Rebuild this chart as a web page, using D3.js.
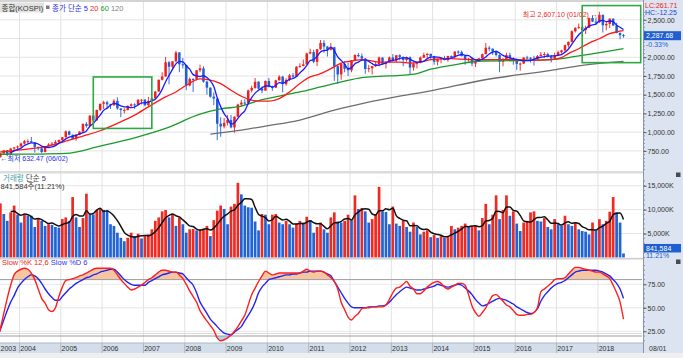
<!DOCTYPE html>
<html><head><meta charset="utf-8">
<script src="https://cdn.jsdelivr.net/npm/d3@7/dist/d3.min.js"></script>
<style>
html,body{margin:0;padding:0;background:#fff;overflow:hidden}
svg{display:block;font-family:"Liberation Sans","Noto Sans CJK KR",sans-serif}
</style></head><body>
<svg id="chart" width="683" height="358"></svg>
<script>
// ---------- DATA (monthly KOSPI, 2003-06 .. 2018-08) ----------
const startMonth = "2003-06";
const yearLabels = ["2003","2004","2005","2006","2007","2008","2009","2010","2011","2012","2013","2014","2015","2016","2017","2018"];

const openP = [
 633,670,718,760,697,781,796,
 810,848,880,880,863,803,785,735,812,835,846,870,
 896,932,1011,965,911,970,1008,1111,1083,1221,1158,1297,
 1379,1399,1371,1359,1419,1317,1295,1297,1352,1371,1364,1432,
 1434,1360,1417,1452,1542,1700,1743,1933,1873,1946,2064,1906,
 1897,1624,1711,1704,1825,1852,1674,1594,1474,1448,1113,1076,
 1124,1162,1063,1206,1369,1395,1390,1557,1591,1673,1581,1555,
 1683,1602,1594,1692,1741,1641,1698,1759,1742,1873,1883,1905,
 2051,2069,1939,2107,2192,2142,2100,2133,1880,1770,1909,1847,
 1826,1956,2030,2014,1982,1843,1854,1881,1906,1996,1912,1933,
 1997,1962,2027,2005,1964,2001,1863,1914,1926,1997,2030,2045,
 2011,1941,1980,1986,1962,2017,2002,2076,2068,2020,1964,1981,
 1916,1949,1986,2041,2127,2114,2074,2030,1941,1963,2029,1991,
 1961,1912,1916,1996,1994,1983,1970,2016,2034,2043,2008,1983,
 2026,2067,2092,2160,2205,2347,2392,2402,2363,2394,2523,2476,
 2467,2566,2427,2445,2515,2423,2326,2295];
const highP = [
 680,725,760,762,790,803,822,
 860,895,905,936,870,808,790,815,853,870,894,900,
 935,1022,1020,970,972,1010,1115,1135,1225,1230,1300,1380,
 1420,1420,1380,1440,1464,1320,1320,1355,1385,1385,1440,1440,
 1440,1470,1460,1550,1700,1800,2005,1950,1950,2085,2070,1990,
 1900,1730,1720,1830,1901,1880,1690,1600,1530,1460,1200,1190,
 1230,1230,1210,1380,1430,1440,1570,1620,1723,1680,1610,1690,
 1723,1620,1700,1760,1750,1720,1780,1790,1880,1920,1970,2060,
 2115,2100,2110,2231,2228,2150,2190,2140,1900,1920,1950,1930,
 1960,2040,2057,2050,1990,1900,1880,1950,2010,2000,1940,2010,
 2042,2030,2040,2010,2010,2010,1930,1940,2010,2060,2060,2050,
 2020,1980,2000,2020,2020,2025,2080,2093,2090,2030,1990,2000,
 1960,1990,2050,2190,2150,2120,2090,2040,1990,2060,2060,2000,
 1970,1930,2000,2020,2000,2020,2030,2070,2070,2060,2030,2060,
 2090,2100,2170,2210,2360,2400,2450,2410,2420,2530,2560,2530,
 2607.10,2570,2480,2520,2520,2460,2330,2310];
const lowP = [
 632.47,660,697,680,697,760,770,
 800,835,850,860,728,760,719,730,810,830,845,860,
 870,930,956,900,885,960,1005,1060,1080,1120,1150,1280,
 1310,1330,1310,1350,1300,1200,1250,1290,1330,1310,1360,1370,
 1345,1350,1380,1450,1540,1690,1740,1638,1850,1930,1800,1850,
 1560,1610,1537,1690,1800,1660,1500,1460,1360,892,938,1050,
 1090,1050,992,1200,1340,1360,1370,1530,1580,1570,1520,1550,
 1600,1552,1590,1690,1532,1620,1680,1720,1740,1860,1880,1900,
 2040,1920,1882,2100,2060,2010,2090,1684,1644,1700,1800,1750,
 1800,1950,2000,1950,1780,1800,1770,1870,1880,1900,1850,1930,
 1940,1930,1960,1880,1940,1770,1820,1850,1920,1990,1990,1960,
 1900,1890,1920,1960,1940,1980,1990,2040,2010,1900,1940,1880,
 1870,1940,1980,2040,2080,2030,2010,1800,1880,1960,1970,1900,
 1830,1820,1910,1970,1930,1890,1960,2010,1990,2000,1930,1970,
 2020,2050,2070,2130,2200,2330,2380,2300,2310,2390,2470,2430,
 2460,2330,2360,2390,2420,2320,2240,2261.71];
const closeP = [
 669,718,759,697,781,796,810,
 848,880,880,863,803,785,735,812,835,846,870,896,
 932,1011,965,911,970,1008,1111,1083,1221,1158,1297,1379,
 1399,1371,1359,1419,1317,1295,1297,1352,1371,1364,1432,1434,
 1360,1417,1452,1542,1700,1743,1933,1873,1946,2064,1906,1897,
 1624,1711,1704,1825,1852,1674,1594,1474,1448,1113,1076,1124,
 1162,1063,1206,1369,1395,1390,1557,1591,1673,1581,1555,1683,
 1602,1594,1692,1741,1641,1698,1759,1742,1873,1883,1905,2051,
 2069,1939,2107,2192,2142,2100,2133,1880,1770,1909,1847,1826,
 1956,2030,2014,1982,1843,1854,1881,1906,1996,1912,1933,1997,
 1962,2027,2005,1964,2001,1863,1914,1926,1997,2030,2045,2011,
 1941,1980,1986,1962,2017,2002,2076,2068,2020,1964,1981,1916,
 1949,1986,2041,2127,2114,2074,2030,1941,1963,2029,1991,1961,
 1912,1916,1996,1994,1983,1970,2016,2034,2043,2008,1983,2026,
 2067,2092,2160,2205,2347,2392,2402,2363,2394,2523,2476,2467,
 2566,2427,2445,2515,2423,2326,2295,2287.68];

// volume (units as on the axis, "K")
const volume = [
 10500,
 11300,9090,7660,9430,10850,8940,7300,8940,8800,8720,
 6380,8020,7660,6600,6950,6810,6380,6240,8020,8370,
 7660,12620,8370,6380,8230,13330,9080,9000,9930,10140,
 9930,9790,6950,6600,5180,4110,3400,4110,5180,4470,
 4960,3970,4470,4820,5890,7660,8370,9640,9930,8370,
 9080,6600,8370,6950,5180,5890,5950,5670,5890,6000,
 6600,4470,7800,9790,10850,10140,6950,10640,11210,15600,
 13190,10850,10490,10400,7520,5670,9080,8940,6950,8940,
 9080,7300,6950,7660,6950,6240,7090,
 7660,7300,8510,7800,5180,6380,7300,5890,5180,8370,
 9430,7520,7300,7660,8940,7800,12980,10140,10350,9640,
 7300,8020,9080,14750,9640,9500,6950,10640,7090,6600,
 7660,6380,5390,7300,6380,4820,5390,5670,4250,4680,
 4110,4470,4110,4470,6600,5890,6240,6600,7090,6380,
 6500,6600,5670,8230,11210,6950,8940,12980,8020,9930,
 12980,8720,9640,7090,5530,7300,7660,9430,9640,7660,
 7520,8230,6380,5890,8020,6950,6600,8720,6950,6600,
 7300,5890,5530,5390,4820,7300,5670,
 8000,6950,7660,9570,12620,9430,7300,841.584];

// Slow %K(12,6) and Slow %D(6)
const slowK = [
 14,28,44,60,74,85,89,91,92,91,
 87,80,70,60,55,48,46,50,62,72,
 79,80,81,82,84,85,87,89,91,92,
 92,92,92,92,90,85,80,76,72,69,
 70,72,74,77,80,82,85,88,90,90,
 89,88,88,85,81,75,68,62,56,47,
 41,36,31,26,18,15,16,18,21,25,
 30,36,42,53,64,71,78,84,89,87,
 85,86,87,87,87,87,87,87,87,89,
 91,89,88,89,89,88,85,82,78,70,
 56,48,40,37,41,44,49,50,50,51,
 51,51,51,53,59,66,71,72,75,78,
 73,70,65,65,68,72,75,77,78,76,
 72,70,72,74,76,76,74,64,52,45,
 41,45,50,57,63,64,61,57,53,51,
 47,43,42,42,43,43,45,50,67,70,
 73,76,80,81,81,82,86,90,93,93,
 92,91,90,89,88,88,86,84,81,74,
 66,56,38];
const slowD = [
 18,27,37,47,56,63,71,76,80,83,
 85,84,81,76,70,65,61,58,58,62,
 66,70,73,76,78,80,82,83,85,86,
 88,89,90,91,91,88,84,80,77,75,
 74,74,74,74,77,79,81,83,85,86,
 87,88,88,87,86,82,78,74,66,56,
 50,44,38,34,30,26,23,22,21,24,
 27,30,36,42,48,56,66,72,76,80,
 81,82,83,84,85,85,86,86,87,88,
 88,89,89,89,89,88,86,84,78,72,
 66,60,55,51,50,50,50,50,51,51,
 51,52,52,53,56,60,64,67,70,72,
 71,70,69,69,70,71,72,73,75,74,
 73,72,73,74,75,74,71,68,64,59,
 55,52,53,55,57,59,60,59,58,56,
 54,51,49,47,45,44,45,49,57,63,
 67,71,74,76,77,79,82,85,88,89,
 90,90,90,90,90,89,88,86,84,80,
 76,70,60];

// long moving averages
const ma20Dates = ["2003-07","2004-04","2004-09","2005-02","2005-07","2005-12","2006-05","2006-10","2007-02","2007-07","2007-10","2008-01","2008-05","2008-07","2008-11","2009-02","2009-05","2009-08","2009-10","2010-01","2010-04","2010-07","2010-10","2011-01","2011-04","2011-07","2011-10","2012-01","2012-04","2012-06","2012-09","2012-12","2013-03","2013-06","2013-09","2013-12","2014-06","2014-11","2015-05","2015-11","2016-05","2016-11","2017-02","2017-04","2017-07","2017-10","2018-01","2018-04","2018-07","2018-08"];
const ma20Vals = [735,780,815,880,948,1019,1117,1227,1338,1471,1537,1626,1712,1704,1649,1560,1480,1427,1414,1414,1449,1537,1649,1737,1782,1848,1923,1950,1968,1959,1936,1936,1936,1923,1936,1968,1981,1968,1968,1968,1959,1968,1995,2048,2114,2189,2247,2314,2348,2358];
const ma60Dates = ["2003-07","2004-06","2005-02","2005-12","2006-10","2007-07","2008-05","2008-11","2009-05","2009-10","2010-04","2010-10","2011-04","2011-10","2012-04","2012-09","2013-03","2013-08","2013-12","2014-06","2015-03","2016-01","2016-11","2017-04","2017-08","2018-02","2018-08"];
const ma60Vals = [705,708,716,815,925,1050,1240,1310,1347,1420,1480,1537,1604,1670,1729,1746,1759,1782,1840,1892,1950,1955,1968,1995,2025,2069,2114];
const ma120Dates = ["2008-08","2009-05","2009-12","2010-10","2011-08","2012-05","2013-03","2013-12","2015-03","2016-11","2017-08","2018-08"];
const ma120Vals = [975,1028,1081,1161,1294,1391,1480,1551,1693,1826,1892,1945];

// highlight boxes (annotations)
const boxFrom = ["2005-10","2017-08"];
const boxTo   = ["2007-03","2019-01"];
const boxLo   = [1050,1928];
const boxHi   = [1737,2690];

const priceTicks = [750,1000,1250,1500,1750,2000,2250,2500];
const priceLabelTicks = [750,1000,1250,1500,1750,2000,2500];
const volTicks = [5000,10000,15000];
const stochTicks = [25,50,75];
const hiDateLabel = "01/02", loDateLabel = "06/02";
const lastChangePct = "-0.33%", volPct = "11.21%";
const lcText = "LC:261.71", hcText = "HC:-12.25";
const cursorDate = "08/01";

// ---------- LAYOUT ----------
const svg = d3.select("#chart");
const PLOT_R = 642;
const n = closeP.length;
const [sy, sm] = startMonth.split("-").map(Number);
const idx = s => { const [y,m] = s.split("-").map(Number); return (y-sy)*12 + (m-sm); };
const x  = d3.scaleLinear().domain([0, n-1]).range([-3.1, 623.5]);
const yP = d3.scaleLinear().domain([750, 2500]).range([150.9, 19.8]);
const yV = d3.scaleLinear().domain([0, 15000]).range([257.5, 185.7]);
const yS = d3.scaleLinear().domain([25, 75]).range([331.3, 284.3]);
const I = d3.range(n);

const RED = "#ee1f1f", BLUE = "#1f5fd8";

svg.append("rect").attr("width",683).attr("height",358).attr("fill","#fff");
svg.append("rect").attr("x",0).attr("y",0).attr("width",683).attr("height",2).attr("fill","#d4d4d4");

const defs = svg.append("defs");
function clip(id,y0,y1){ defs.append("clipPath").attr("id",id).append("rect")
  .attr("x",0).attr("y",y0).attr("width",PLOT_R+1).attr("height",y1-y0); }
clip("cp",10,171); clip("cv",174,258); clip("cs",259,343);

// vertical year grid
const yearGrid = yearLabels.slice(1).map(y => x(idx(y+"-01") - 0.44));
svg.append("g").selectAll("line").data(yearGrid).join("line")
  .attr("x1",d=>d).attr("x2",d=>d).attr("y1",2).attr("y2",343)
  .attr("stroke","#e2e2e2").attr("stroke-width",1);

// ---- price panel ----
svg.append("g").selectAll("line").data(priceTicks).join("line")
  .attr("x1",0).attr("x2",PLOT_R).attr("y1",d=>yP(d)).attr("y2",d=>yP(d))
  .attr("stroke","#e4e4e4");

const gp = svg.append("g").attr("clip-path","url(#cp)");
const up = i => closeP[i] >= openP[i];
gp.append("g").selectAll("line").data(I).join("line")
  .attr("x1",i=>x(i)).attr("x2",i=>x(i))
  .attr("y1",i=>yP(highP[i])).attr("y2",i=>yP(lowP[i]))
  .attr("stroke",i=>up(i)?RED:BLUE).attr("stroke-width",0.9);
gp.append("g").selectAll("rect").data(I).join("rect")
  .attr("x",i=>x(i)-1.25).attr("width",2.5)
  .attr("y",i=>yP(Math.max(openP[i],closeP[i])))
  .attr("height",i=>Math.max(1,Math.abs(yP(openP[i])-yP(closeP[i]))))
  .attr("fill",i=>up(i)?RED:BLUE);

const sparse = (dates, vals) => dates.map((d,k)=>[idx(d), vals[k]]);
const lineP = d3.line().x(d=>x(d[0])).y(d=>yP(d[1])).curve(d3.curveMonotoneX);
gp.append("path").attr("d",lineP(sparse(ma120Dates,ma120Vals))).attr("fill","none").attr("stroke","#6e6e6e").attr("stroke-width",1.3);
gp.append("path").attr("d",lineP(sparse(ma60Dates,ma60Vals))).attr("fill","none").attr("stroke","#1a9a2a").attr("stroke-width",1.3);
gp.append("path").attr("d",lineP(sparse(ma20Dates,ma20Vals))).attr("fill","none").attr("stroke","#ff1a1a").attr("stroke-width",1.3);
const ma5 = I.map(i => i<4 ? null : d3.mean(closeP.slice(i-4,i+1)));
gp.append("path").attr("d", d3.line().defined(i=>ma5[i]!=null).x(i=>x(i)).y(i=>yP(ma5[i])).curve(d3.curveMonotoneX)(I))
  .attr("fill","none").attr("stroke","#1a1aff").attr("stroke-width",1.3);

// highlight boxes
svg.append("g").selectAll("rect").data(boxFrom.map((d,k)=>k)).join("rect")
  .attr("x",k=>x(idx(boxFrom[k]))).attr("width",k=>x(idx(boxTo[k]))-x(idx(boxFrom[k])))
  .attr("y",k=>yP(boxHi[k])).attr("height",k=>yP(boxLo[k])-yP(boxHi[k]))
  .attr("fill","none").attr("stroke","#2ea844").attr("stroke-width",1.6);

// max / min annotations
const hiI = d3.maxIndex(highP), loI = d3.minIndex(lowP);
svg.append("text").attr("x",x(hiI)-1.5).attr("y",yP(highP[hiI])+5.5).attr("text-anchor","end")
  .attr("font-size",7).attr("fill","#ee2222")
  .text("최고 "+d3.format(",.2f")(highP[hiI])+" ("+hiDateLabel+") →");
svg.append("text").attr("x",Math.max(x(loI)+3,0.5)).attr("y",yP(lowP[loI])+1.5)
  .attr("font-size",7).attr("fill","#2a2aee")
  .text("←최저 "+d3.format(",.2f")(lowP[loI])+" ("+loDateLabel+")");

// title
svg.append("rect").attr("x",0).attr("y",2.5).attr("width",44).attr("height",10).attr("fill","#e2e2e2");
svg.append("text").attr("x",1.5).attr("y",10.5).attr("font-size",7.5).attr("fill","#333").text("종합(KOSPI)");
svg.append("rect").attr("x",46).attr("y",5.5).attr("width",3.5).attr("height",3.5).attr("fill","#7a7a7a");
const tt = svg.append("text").attr("x",52).attr("y",10.5).attr("font-size",7.5);
tt.append("tspan").attr("fill","#2a2aee").text("종가 단순 5");
tt.append("tspan").attr("fill","#ee2222").text(" 20");
tt.append("tspan").attr("fill","#1f9a2f").text(" 60");
tt.append("tspan").attr("fill","#808080").text(" 120");

// separator price/volume
svg.append("rect").attr("x",0).attr("y",171).attr("width",643).attr("height",2.5).attr("fill","#dcdcdc");

// ---- volume panel ----
svg.append("g").selectAll("line").data(volTicks).join("line")
  .attr("x1",0).attr("x2",PLOT_R).attr("y1",d=>yV(d)).attr("y2",d=>yV(d)).attr("stroke","#e4e4e4");
const gv = svg.append("g").attr("clip-path","url(#cv)");
const vUp = i => i===0 || volume[i] >= volume[i-1];
gv.append("g").selectAll("rect").data(I).join("rect")
  .attr("x",i=>x(i)-1.35).attr("width",2.7)
  .attr("y",i=>yV(volume[i])).attr("height",i=>yV(0)-yV(volume[i]))
  .attr("fill",i=>vUp(i)?"#ee2a22":"#2264d6");
const vma5 = I.map(i => i<4 ? null : d3.mean(volume.slice(i-4,i+1)));
gv.append("path").attr("d", d3.line().defined(i=>vma5[i]!=null).x(i=>x(i)).y(i=>yV(vma5[i])).curve(d3.curveMonotoneX)(I))
  .attr("fill","none").attr("stroke","#111").attr("stroke-width",1.5);
const vt = svg.append("text").attr("x",3).attr("y",180.5).attr("font-size",7.5);
vt.append("tspan").attr("fill","#3d9fa6").text("거래량");
vt.append("tspan").attr("fill","#444").text(" 단순 5");
svg.append("text").attr("x",0.5).attr("y",188.5).attr("font-size",7.5).attr("fill","#333")
  .text(d3.format(",")(Math.round(volume[n-1]*1000))+"주("+volPct+")");

// separator volume/stoch
svg.append("rect").attr("x",0).attr("y",257.8).attr("width",643).attr("height",1.7).attr("fill","#cfcfcf");

// ---- stochastic panel ----
svg.append("g").selectAll("line").data(stochTicks).join("line")
  .attr("x1",0).attr("x2",PLOT_R).attr("y1",d=>yS(d)).attr("y2",d=>yS(d)).attr("stroke","#e6e6e6");
const gs = svg.append("g").attr("clip-path","url(#cs)");
gs.append("path").attr("d", d3.area().x(i=>x(i)).y0(yS(80))
   .y1(i=>yS(Math.max(slowK[i],slowD[i],80))).curve(d3.curveMonotoneX)(I)).attr("fill","#f6c6a2");
gs.append("path").attr("d", d3.area().x(i=>x(i)).y0(yS(20))
   .y1(i=>yS(Math.min(slowK[i],slowD[i],20))).curve(d3.curveMonotoneX)(I)).attr("fill","#a9d6ea");
[80,20].forEach(v => gs.append("line").attr("x1",0).attr("x2",PLOT_R).attr("y1",yS(v)).attr("y2",yS(v))
   .attr("stroke","#9c9c9c").attr("stroke-width",1));
gs.append("line").attr("x1",0).attr("x2",PLOT_R).attr("y1",yS(20)-2.5).attr("y2",yS(20)-2.5).attr("stroke","#dadada");
gs.append("path").attr("d", d3.line().x(i=>x(i)).y(i=>yS(slowD[i])).curve(d3.curveMonotoneX)(I))
  .attr("fill","none").attr("stroke","#2424f0").attr("stroke-width",1.4);
gs.append("path").attr("d", d3.line().x(i=>x(i)).y(i=>yS(slowK[i])).curve(d3.curveMonotoneX)(I))
  .attr("fill","none").attr("stroke","#ff1f1f").attr("stroke-width",1.4);
const st = svg.append("text").attr("x",2).attr("y",265).attr("font-size",7.5);
st.append("tspan").attr("fill","#ee2222").text("Slow %K 12,6");
st.append("tspan").attr("fill","#3434ee").text(" Slow %D 6");

// ---- bottom time axis ----
svg.append("rect").attr("x",0).attr("y",343).attr("width",643).attr("height",10).attr("fill","#d4deeb");
svg.append("line").attr("x1",0).attr("x2",643).attr("y1",343).attr("y2",343).attr("stroke","#aab6c6");
svg.append("g").selectAll("line").data(yearGrid).join("line")
  .attr("x1",d=>d).attr("x2",d=>d).attr("y1",343).attr("y2",353).attr("stroke","#aab6c6");
svg.append("g").selectAll("text").data(yearLabels).join("text")
  .attr("x",y=>Math.max(x(idx(y+"-01")-0.44)+0.8,0.5)).attr("y",351)
  .attr("font-size",7).attr("fill","#333").text(y=>y);
svg.append("rect").attr("x",0).attr("y",353).attr("width",683).attr("height",5).attr("fill","#efefef");

// ---- right axis panel ----
svg.append("rect").attr("x",643).attr("y",0).attr("width",40).attr("height",353).attr("fill","#dbe4f0");
svg.append("line").attr("x1",643.5).attr("x2",643.5).attr("y1",0).attr("y2",353).attr("stroke","#8796ab");
function rightAxis(scale, ticks, fmt, minor){
  const g = svg.append("g").attr("transform","translate(643.5,0)");
  g.selectAll("line.mn").data(minor).join("line").attr("class","mn")
    .attr("x1",0).attr("x2",1.5).attr("y1",d=>scale(d)).attr("y2",d=>scale(d)).attr("stroke","#8796ab");
  const ax = d3.axisRight(scale).tickValues(ticks).tickFormat(fmt).tickSize(3).tickPadding(1);
  g.call(ax);
  g.select(".domain").remove();
  g.selectAll(".tick line").attr("stroke","#556");
  g.selectAll(".tick text").attr("font-size",7).attr("fill","#333").attr("font-family","Liberation Sans");
}
rightAxis(yP, priceLabelTicks, d3.format(",.2f"), d3.range(500,2650,50).filter(v=>yP(v)>2&&yP(v)<171));
rightAxis(yV, volTicks, d=>d3.format(",")(d)+"K", d3.range(0,17000,1000).filter(v=>yV(v)>175));
rightAxis(yS, stochTicks, d3.format(".2f"), d3.range(0,105,5).filter(v=>yS(v)>261&&yS(v)<342));

// last price box
const lastC = closeP[n-1];
svg.append("rect").attr("x",644).attr("y",yP(lastC)-4.5).attr("width",37).attr("height",9).attr("fill","#1f5fcf");
svg.append("text").attr("x",646).attr("y",yP(lastC)+2.6).attr("font-size",7).attr("fill","#fff").text(d3.format(",.2f")(lastC));
svg.append("text").attr("x",646).attr("y",yP(lastC)+11).attr("font-size",7).attr("fill","#1f5fcf").text(lastChangePct);
svg.append("text").attr("x",645).attr("y",8).attr("font-size",7).attr("fill","#ee2222").text(lcText);
svg.append("text").attr("x",645).attr("y",15.2).attr("font-size",7).attr("fill","#2244dd").text(hcText);
// last volume box
const lastV = volume[n-1];
svg.append("rect").attr("x",644).attr("y",yV(lastV)-9.5).attr("width",37).attr("height",8.5).attr("fill","#1f5fcf");
svg.append("text").attr("x",646).attr("y",yV(lastV)-2.9).attr("font-size",7).attr("fill","#fff").text(d3.format(",")(Math.round(lastV*1000)));
svg.append("text").attr("x",646).attr("y",yV(lastV)+4.5).attr("font-size",7).attr("fill","#1f5fcf").text(volPct);
// panel icons
[172.5,259.5].forEach(yy => svg.append("rect").attr("x",676).attr("y",yy).attr("width",4.5).attr("height",4.5).attr("fill","#4a4a4a"));
svg.append("text").attr("x",649).attr("y",351).attr("font-size",7).attr("fill","#333").text(cursorDate);
</script>
</body></html>
